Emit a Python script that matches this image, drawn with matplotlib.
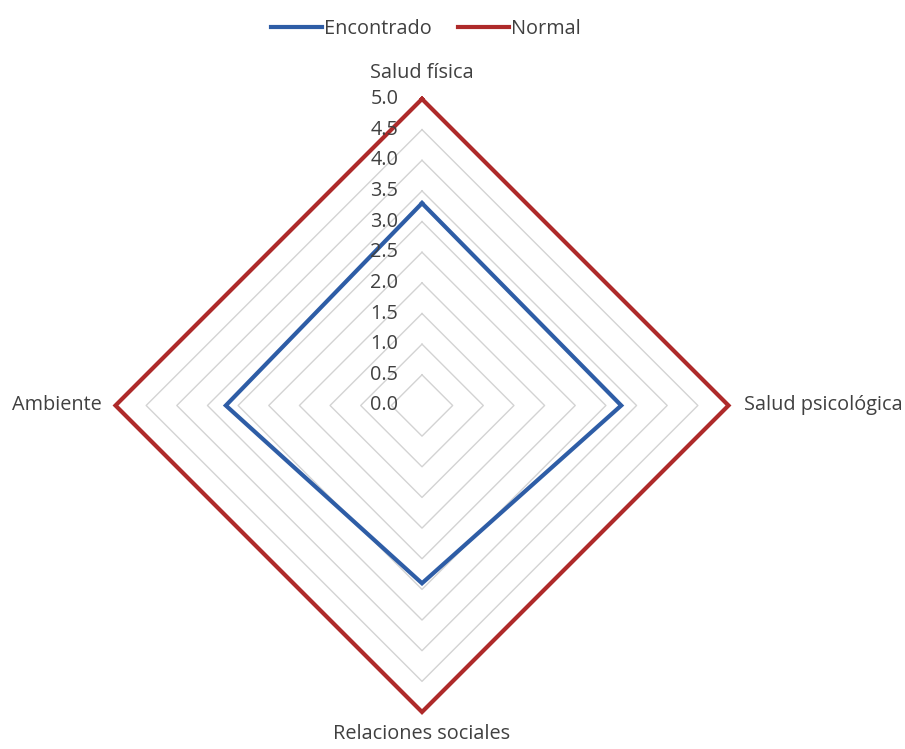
import numpy as np
import matplotlib
matplotlib.use("Agg")
import matplotlib.pyplot as plt
from matplotlib.lines import Line2D

categories = ["Salud física", "Salud psicológica", "Relaciones sociales", "Ambiente"]
encontrado = [3.3, 3.25, 2.9, 3.2]
normal = [5.0, 5.0, 5.0, 5.0]
ticks = [0.0, 0.5, 1.0, 1.5, 2.0, 2.5, 3.0, 3.5, 4.0, 4.5, 5.0]
series_names = ["Encontrado", "Normal"]
colors = ["#2E5DA6", "#AE2A2A"]

plt.rcParams['font.family'] = ['Open Sans', 'DejaVu Sans']
FS = 14.3

fig = plt.figure(figsize=(9.05, 7.49), dpi=100)
ax = fig.add_axes([0.0599, 0.00848, 0.8128, 0.9003])
ax.set_xlim(-6, 6)
ax.set_ylim(-5.5, 5.5)
ax.axis('off')

n = len(categories)
angles = np.arange(n) * 2 * np.pi / n  # clockwise from top

def to_xy(vals):
    v = np.asarray(vals, dtype=float)
    x = v * np.sin(angles)
    y = v * np.cos(angles)
    return np.append(x, x[0]), np.append(y, y[0])

# grid diamonds
for t in ticks[1:]:
    gx, gy = to_xy([t] * n)
    ax.plot(gx, gy, color="#D3D3D3", lw=1.0, zorder=1)

# series
for vals, c in zip([encontrado, normal], colors):
    sx, sy = to_xy(vals)
    ax.plot(sx, sy, color=c, lw=3.0, solid_joinstyle='miter', zorder=3)

# tick labels
for t in ticks:
    ax.annotate(f"{t:.1f}", xy=(0, t), xytext=(-17, 0), textcoords='offset points',
                ha='right', va='center', fontsize=FS, color="#404040", zorder=4)

# category labels
offsets = [((0, 15), 'center', 'baseline'), ((11, 0), 'left', 'center'),
           ((0, -9), 'center', 'top'), ((-10, 0), 'right', 'center')]
tip_x, tip_y = to_xy(normal)
for i, cat in enumerate(categories):
    (ox, oy), ha, va = offsets[i]
    ax.annotate(cat, xy=(tip_x[i], tip_y[i]), xytext=(ox, oy), textcoords='offset points',
                ha=ha, va=va, fontsize=FS, color="#404040", annotation_clip=False)

handles = [Line2D([0], [0], color=c, lw=3.0) for c in colors]
fig.legend(handles, series_names, loc='upper center', bbox_to_anchor=(0.4705, 0.996),
           ncol=2, frameon=False, fontsize=FS, handlelength=2.6, handletextpad=0.1,
           columnspacing=1.3, labelcolor="#404040", borderpad=0.3)

fig.savefig("out.png", dpi=100)
